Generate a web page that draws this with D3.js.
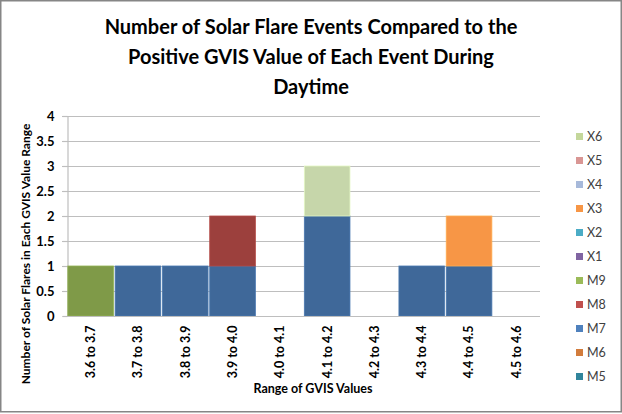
<!DOCTYPE html>
<html>
<head>
<meta charset="utf-8">
<script src="https://cdn.jsdelivr.net/npm/d3@7"></script>
<style>
  body { margin: 0; background: #fff; }
  text { font-family: Lato, "Open Sans", sans-serif; font-weight: bold; fill: #000; }
</style>
</head>
<body>
<svg id="chart" width="622" height="414"></svg>
<script>
var ranges = ["3.6 to 3.7","3.7 to 3.8","3.8 to 3.9","3.9 to 4.0","4.0 to 4.1","4.1 to 4.2","4.2 to 4.3","4.3 to 4.4","4.4 to 4.5","4.5 to 4.6"]
var series = ["M5","M6","M7","M8","M9","X1","X2","X3","X4","X5","X6"]
// counts per range, one array per flare class
var M5 = [0,0,0,0,0,0,0,0,0,0]
var M6 = [0,0,0,0,0,0,0,0,0,0]
var M7 = [0,1,1,1,0,2,0,1,1,0]
var M8 = [0,0,0,1,0,0,0,0,0,0]
var M9 = [1,0,0,0,0,0,0,0,0,0]
var X1 = [0,0,0,0,0,0,0,0,0,0]
var X2 = [0,0,0,0,0,0,0,0,0,0]
var X3 = [0,0,0,0,0,0,0,0,1,0]
var X4 = [0,0,0,0,0,0,0,0,0,0]
var X5 = [0,0,0,0,0,0,0,0,0,0]
var X6 = [0,0,0,0,0,1,0,0,0,0]
var yTicks = [0,0.5,1,1.5,2,2.5,3,3.5,4]

var values = {M5:M5,M6:M6,M7:M7,M8:M8,M9:M9,X1:X1,X2:X2,X3:X3,X4:X4,X5:X5,X6:X6}
var table = ranges.map(function(r,i){
    var row = {range:r}
    series.forEach(function(s){ row[s]=values[s][i] })
    return row
})

var width=622, height=414
var margin = {left:67, right:82, top:116, bottom:98}

var svg = d3.select("#chart")

// legend swatch colours and (slightly shaded) bar colours
var color = d3.scaleOrdinal()
  .domain(series)
  .range(["#31859C","#D27C3C","#4F81BD","#C0504D","#9BBB59","#8064A2","#4BACC6","#F79646","#A7B9DA","#D99694","#C4D79B"])
var barColor = d3.scaleOrdinal()
  .domain(series)
  .range(["#2B7489","#B8692F","#3F6899","#9C403D","#7F9A48","#6A5088","#3D93AA","#F79646","#8FA3C8","#C88180","#C6D6AA"])

var x = d3.scaleBand()
  .domain(ranges)
  .range([margin.left, width-margin.right])
  .paddingInner(0.035)
  .paddingOuter(0.0175)

var y = d3.scaleLinear()
  .domain([0,4])
  .range([height-margin.bottom, margin.top])

// outer frame
svg.append("rect")
   .attr("x",0.75).attr("y",0.75)
   .attr("width",width-1.5).attr("height",height-3)
   .style("fill","none").style("stroke","#868686").style("stroke-width",1.5)

// gridlines
svg.append("g")
   .selectAll("line")
   .data(yTicks.filter(d=>d>0))
   .join("line")
   .attr("x1",margin.left-5).attr("x2",width-margin.right)
   .attr("y1",d=>y(d)+0.5).attr("y2",d=>y(d)+0.5)
   .style("stroke","#BEBEBE").style("stroke-width",1.2)

// y axis
var yAxis = svg.append("g")
   .attr("transform","translate("+(margin.left+0.5)+",0)")
   .call(d3.axisLeft(y).tickValues(yTicks).tickSize(5).tickPadding(8).tickFormat(d3.format("")))
yAxis.select(".domain").style("stroke","#BEBEBE").style("stroke-width",1.2)
yAxis.selectAll(".tick line").style("stroke","#BEBEBE").style("stroke-width",1.2)
yAxis.selectAll("text").style("font-size","13px")

// stacked bars
var stacked = d3.stack().keys(series)(table)
svg.append("g")
   .selectAll("g")
   .data(stacked)
   .join("g")
   .each(function(layer){
       d3.select(this).selectAll("rect")
         .data(layer.filter(d=>d[1]>d[0]))
         .join("rect")
         .attr("x", d=>x(d.data.range))
         .attr("width", x.bandwidth())
         .attr("y", d=>y(d[1]))
         .attr("height", d=>y(d[0])-y(d[1]))
         .style("fill", barColor(layer.key))
         .style("stroke", d3.color(barColor(layer.key)).brighter(0.4))
         .style("stroke-width",0.8)
   })

// x axis
var xAxis = svg.append("g")
   .attr("transform","translate(0,"+(height-margin.bottom+0.5)+")")
   .call(d3.axisBottom(x).tickSize(0).tickPadding(0))
xAxis.select(".domain").attr("d","M"+margin.left+",0H"+(width-margin.right)).style("stroke","#BEBEBE").style("stroke-width",1.2)
xAxis.selectAll("text")
   .attr("transform","rotate(-90)")
   .attr("x",-9).attr("y",0).attr("dy","0.35em")
   .style("text-anchor","end")
   .style("font-size","12.5px")

// axis titles
svg.append("text")
   .attr("x",313).attr("y",393)
   .attr("text-anchor","middle")
   .style("font-size","12.5px")
   .text("Range of GVIS Values")

svg.append("text")
   .attr("transform","translate(30,254) rotate(-90)")
   .attr("text-anchor","middle")
   .style("font-size","12px")
   .text("Number of Solar Flares in Each GVIS Value Range")

// title
var titleLines = ["Number of Solar Flare Events Compared to the","Positive GVIS Value of Each Event During","Daytime"]
svg.append("g")
   .selectAll("text")
   .data(titleLines)
   .join("text")
   .attr("x",311)
   .attr("y",(d,i)=>34+i*30)
   .attr("text-anchor","middle")
   .style("font-size","20px")
   .text(d=>d)

// legend (reversed, like the stacking order)
var legend = svg.append("g")
   .selectAll("g")
   .data(series.slice().reverse())
   .join("g")
   .attr("transform",(d,i)=>"translate(576,"+(137+i*24)+")")
legend.append("rect")
   .attr("x",0).attr("y",-4).attr("width",7).attr("height",7)
   .style("fill",d=>color(d))
legend.append("text")
   .attr("x",11).attr("y",0).attr("dy","0.35em")
   .style("font-size","12.5px").style("font-weight","normal").style("fill","#404040")
   .text(d=>d)
</script>
</body>
</html>
